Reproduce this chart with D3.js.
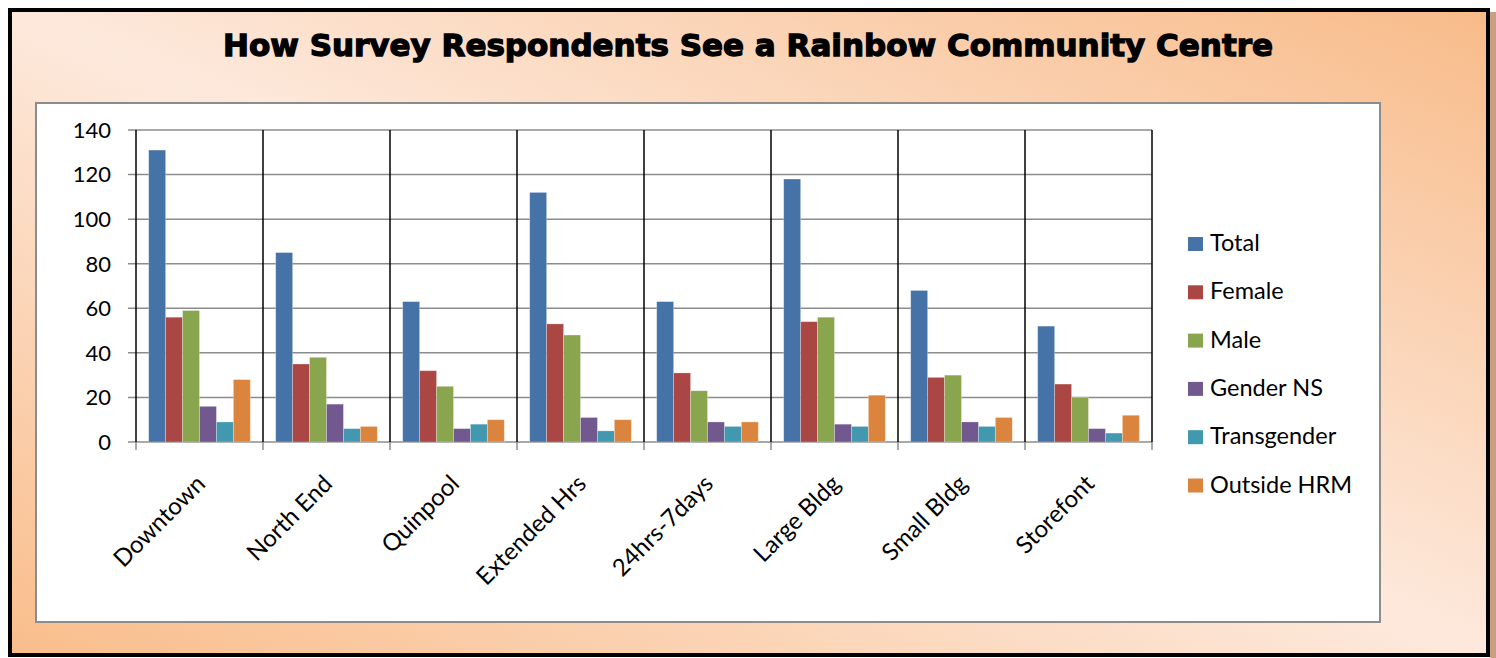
<!DOCTYPE html>
<html>
<head>
<meta charset="utf-8">
<script src="https://cdn.jsdelivr.net/npm/d3@7"></script>
<style>
  body { margin: 0; background: #ffffff; }
  svg { display: block; }
</style>
</head>
<body>
<script>
// Data
var categories = ["Downtown", "North End", "Quinpool", "Extended Hrs", "24hrs-7days", "Large Bldg", "Small Bldg", "Storefont"];
var seriesNames = ["Total", "Female", "Male", "Gender NS", "Transgender", "Outside HRM"];
var total       = [131, 85, 63, 112, 63, 118, 68, 52];
var female      = [56, 35, 32, 53, 31, 54, 29, 26];
var male        = [59, 38, 25, 48, 23, 56, 30, 20];
var genderNS    = [16, 17, 6, 11, 9, 8, 9, 6];
var transgender = [9, 6, 8, 5, 7, 7, 7, 4];
var outsideHRM  = [28, 7, 10, 10, 9, 21, 11, 12];
var yTicks = [0, 20, 40, 60, 80, 100, 120, 140];

var colors = ["#4572A7", "#AA4643", "#89A54E", "#71588F", "#4198AF", "#DB843D"];
var seriesValues = [total, female, male, genderNS, transgender, outsideHRM];

var W = 1496, H = 658;

var svg = d3.select("body").append("svg")
    .attr("width", W)
    .attr("height", H);

// background gradient (reflected, Excel style)
var defs = svg.append("defs");
var grad = defs.append("linearGradient")
    .attr("id", "bg")
    .attr("x1", 0).attr("y1", 1)
    .attr("x2", 1).attr("y2", 0);
grad.append("stop").attr("offset", "0%").attr("stop-color", "#f9bd8b");
grad.append("stop").attr("offset", "50%").attr("stop-color", "#fde9dc");
grad.append("stop").attr("offset", "100%").attr("stop-color", "#f8bb89");

// shadow strip on the right
svg.append("rect")
    .attr("x", 1490).attr("y", 12)
    .attr("width", 6).attr("height", H - 12)
    .attr("fill", "#c9a084");

svg.append("rect")
    .attr("x", 10).attr("y", 10)
    .attr("width", 1478).attr("height", 645)
    .attr("fill", "url(#bg)")
    .attr("stroke", "#000")
    .attr("stroke-width", 4);

// title
svg.append("text")
    .attr("x", 748).attr("y", 56)
    .attr("text-anchor", "middle")
    .attr("textLength", 1050)
    .attr("lengthAdjust", "spacingAndGlyphs")
    .style("font-family", "'DejaVu Sans', sans-serif")
    .style("font-weight", "bold")
    .style("font-size", "31px")
    .attr("fill", "#000")
    .attr("stroke", "#000")
    .attr("stroke-width", 1.3)
    .text("How Survey Respondents See a Rainbow Community Centre");

// plot area
svg.append("rect")
    .attr("x", 36).attr("y", 103)
    .attr("width", 1344).attr("height", 519)
    .attr("fill", "#fff")
    .attr("stroke", "#8c8c8c")
    .attr("stroke-width", 2);

// scales
var x0 = d3.scaleBand()
    .domain(categories)
    .range([136, 1152])
    .paddingInner(0)
    .paddingOuter(0);

var x1 = d3.scaleBand()
    .domain(seriesNames)
    .range([0, x0.bandwidth()])
    .paddingInner(0)
    .paddingOuter(0.75);

var y = d3.scaleLinear().domain([0, 140]).range([442, 130]);

var font = "Lato, 'Open Sans', sans-serif";

// horizontal gridlines
svg.append("g")
    .selectAll("line")
    .data(yTicks)
    .enter().append("line")
    .attr("x1", 128).attr("x2", 1152)
    .attr("y1", function(d) { return y(d); })
    .attr("y2", function(d) { return y(d); })
    .attr("stroke", "#8c8c8c")
    .attr("stroke-width", 1.5);

// vertical category dividers
var bounds = categories.map(function(c) { return x0(c); }).concat([x0.range()[1]]);
svg.append("g")
    .selectAll("line")
    .data(bounds)
    .enter().append("line")
    .attr("x1", function(d) { return d; })
    .attr("x2", function(d) { return d; })
    .attr("y1", y(140)).attr("y2", y(0))
    .attr("stroke", "#000")
    .attr("stroke-width", 1.5);

// bottom tick marks
svg.append("g")
    .selectAll("line")
    .data(bounds)
    .enter().append("line")
    .attr("x1", function(d) { return d; })
    .attr("x2", function(d) { return d; })
    .attr("y1", y(0)).attr("y2", y(0) + 8)
    .attr("stroke", "#8c8c8c")
    .attr("stroke-width", 1.5);

// y axis labels
svg.append("g")
    .selectAll("text")
    .data(yTicks)
    .enter().append("text")
    .attr("x", 111)
    .attr("y", function(d) { return y(d); })
    .attr("dy", "0.36em")
    .attr("text-anchor", "end")
    .style("font-family", font)
    .style("font-size", "22px")
    .attr("fill", "#000")
    .text(function(d) { return d; });

// bars
var groups = svg.append("g")
    .selectAll("g")
    .data(categories)
    .enter().append("g")
    .attr("transform", function(c) { return "translate(" + x0(c) + ",0)"; });

groups.selectAll("rect")
    .data(function(c, i) {
        return seriesNames.map(function(s, j) {
            return {series: s, value: seriesValues[j][i], color: colors[j]};
        });
    })
    .enter().append("rect")
    .attr("x", function(d) { return x1(d.series); })
    .attr("width", x1.bandwidth())
    .attr("y", function(d) { return y(d.value); })
    .attr("height", function(d) { return y(0) - y(d.value); })
    .attr("fill", function(d) { return d.color; })
    .attr("stroke", "rgba(255,255,255,0.35)")
    .attr("stroke-width", 0.8);

// category labels, rotated
svg.append("g")
    .selectAll("text")
    .data(categories)
    .enter().append("text")
    .attr("transform", function(c) {
        return "translate(" + (x0(c) + x0.bandwidth() / 2 - 5) + ",473) rotate(-45)";
    })
    .attr("dy", "0.72em")
    .attr("text-anchor", "end")
    .style("font-family", font)
    .style("font-size", "24px")
    .attr("fill", "#000")
    .text(function(c) { return c; });

// legend
var legend = svg.append("g")
    .selectAll("g")
    .data(seriesNames)
    .enter().append("g")
    .attr("transform", function(d, i) { return "translate(1188," + (237 + i * 48.3) + ")"; });

legend.append("rect")
    .attr("width", 15).attr("height", 14)
    .attr("fill", function(d, i) { return colors[i]; });

legend.append("text")
    .attr("x", 22).attr("y", 14)
    .style("font-family", font)
    .style("font-size", "23.5px")
    .attr("fill", "#000")
    .text(function(d) { return d; });
</script>
</body>
</html>
